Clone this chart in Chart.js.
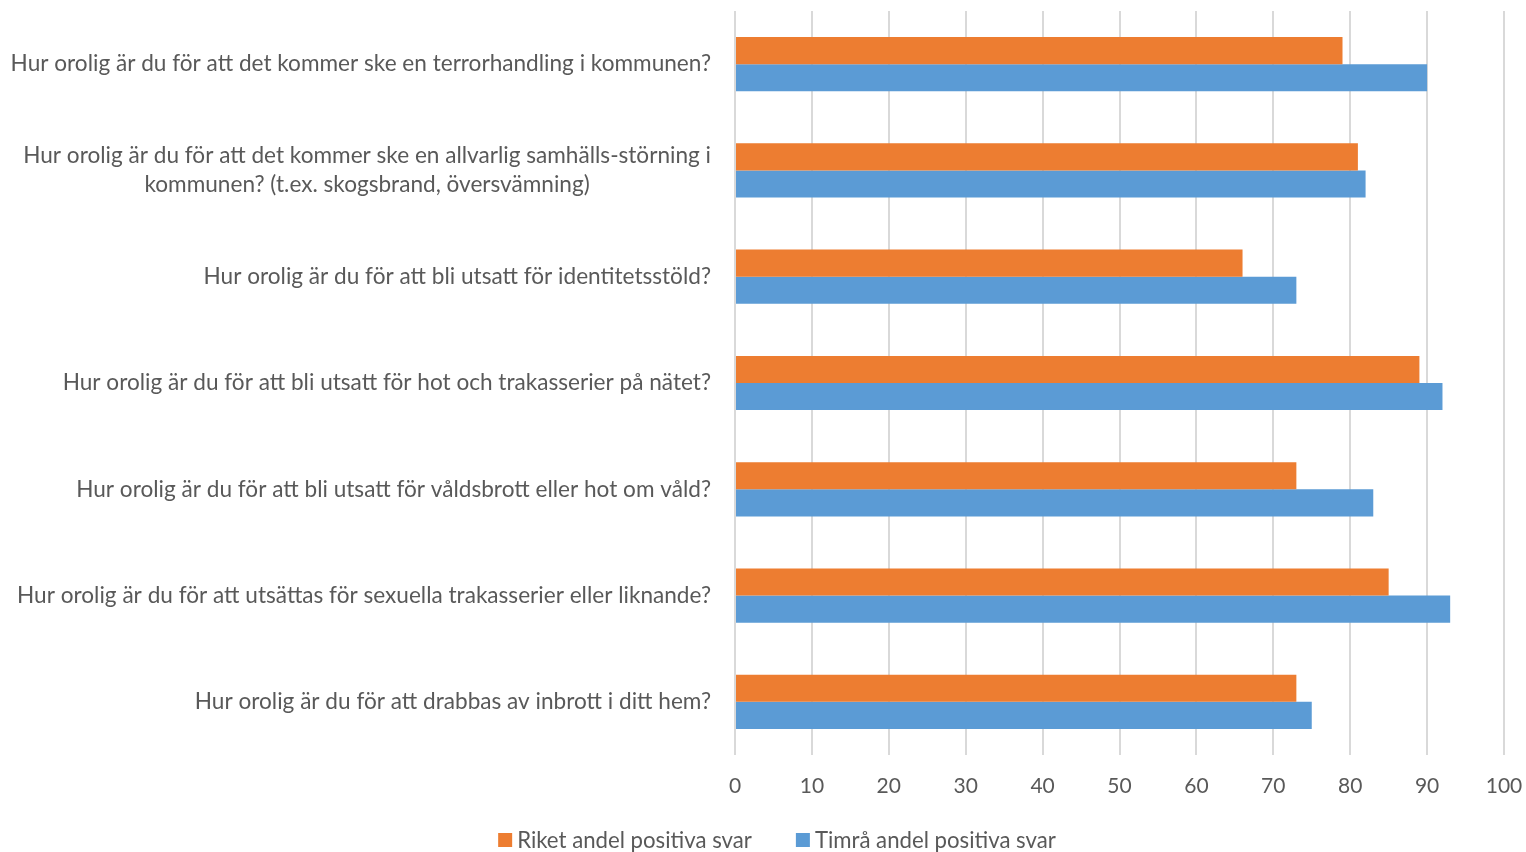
<!DOCTYPE html>
<html>
<head>
<meta charset="utf-8">
<script src="https://cdn.jsdelivr.net/npm/chart.js@4"></script>
<style>
  html, body { margin: 0; padding: 0; background: #fff; }
  #wrap { width: 1526px; height: 852px; }
</style>
</head>
<body>
<div id="wrap"><canvas id="orosChart"></canvas></div>
<script>
var questions = [
    'Hur orolig är du för att det kommer ske en terrorhandling i kommunen?',
    ['Hur orolig är du för att det kommer ske en allvarlig samhälls-störning i', 'kommunen? (t.ex. skogsbrand, översvämning)'],
    'Hur orolig är du för att bli utsatt för identitetsstöld?',
    'Hur orolig är du för att bli utsatt för hot och trakasserier på nätet?',
    'Hur orolig är du för att bli utsatt för våldsbrott eller hot om våld?',
    'Hur orolig är du för att utsättas för sexuella trakasserier eller liknande?',
    'Hur orolig är du för att drabbas av inbrott i ditt hem?'
];
var riket = [79, 81, 66, 89, 73, 85, 73];
var timra = [90, 82, 73, 92, 83, 93, 75];
var xTicks = [0, 10, 20, 30, 40, 50, 60, 70, 80, 90, 100];

var textColor = '#595959';
var fontFamily = 'Lato, "Open Sans", sans-serif';
var labelFont = '22.6px ' + fontFamily;
var legendFont = '22.2px ' + fontFamily;
var labelPad = 24;

// question labels: block right-aligned against the plot, lines centred inside the block
// plus a hand-drawn legend so the spacing can match
var extraText = {
    id: 'extraText',
    afterDraw: function (chart) {
        var c = chart.ctx;
        var y = chart.scales.y;
        c.save();
        c.font = labelFont;
        c.fillStyle = textColor;
        c.textBaseline = 'middle';
        c.textAlign = 'center';
        questions.forEach(function (q, i) {
            var lines = Array.isArray(q) ? q : [q];
            var w = Math.max.apply(null, lines.map(function (l) { return c.measureText(l).width; }));
            var cx = chart.chartArea.left - labelPad - w / 2;
            var cy = y.getPixelForValue(i);
            lines.forEach(function (l, j) {
                c.fillText(l, cx, cy + (j - (lines.length - 1) / 2) * 29);
            });
        });

        // legend
        c.font = legendFont;
        c.textAlign = 'left';
        var box = 14, gap = 5, itemGap = 44;
        var sets = chart.data.datasets;
        var total = 0;
        sets.forEach(function (ds, i) {
            total += box + gap + c.measureText(ds.label).width + (i ? itemGap : 0);
        });
        var x = 777 - total / 2;
        var ly = 840;
        sets.forEach(function (ds) {
            c.fillStyle = ds.backgroundColor;
            c.fillRect(x, ly - box / 2, box, box);
            c.fillStyle = textColor;
            c.fillText(ds.label, x + box + gap, ly + 1);
            x += box + gap + c.measureText(ds.label).width + itemGap;
        });
        c.restore();
    }
};

document.addEventListener('DOMContentLoaded', function () {
    var ctx = document.getElementById('orosChart').getContext('2d');
    new Chart(ctx, {
        type: 'bar',
        data: {
            labels: questions,
            datasets: [{
                label: 'Riket andel positiva svar',
                data: riket,
                backgroundColor: '#ed7d31',
                categoryPercentage: 0.51,
                barPercentage: 1
            }, {
                label: 'Timrå andel positiva svar',
                data: timra,
                backgroundColor: '#5b9bd5',
                categoryPercentage: 0.51,
                barPercentage: 1
            }]
        },
        options: {
            indexAxis: 'y',
            responsive: true,
            maintainAspectRatio: false,
            animation: false,
            layout: { padding: { top: 11, right: 22, left: 12, bottom: 52 } },
            scales: {
                x: {
                    min: 0,
                    max: 100,
                    afterBuildTicks: function (axis) {
                        axis.ticks = xTicks.map(function (v) { return { value: v }; });
                    },
                    afterFit: function (axis) {
                        axis.height = 45;
                        axis.paddingLeft = 0;
                        axis.paddingRight = 0;
                    },
                    grid: { color: '#d9d9d9', lineWidth: 2, drawTicks: false },
                    border: { display: false },
                    ticks: { color: textColor, font: { family: fontFamily, size: 21 }, padding: 19, maxRotation: 0 }
                },
                y: {
                    afterFit: function (axis) {
                        axis.width = 723;
                        axis.paddingTop = 0;
                        axis.paddingBottom = 0;
                    },
                    grid: { display: false },
                    border: { display: false },
                    ticks: { display: false }
                }
            },
            plugins: {
                legend: { display: false },
                tooltip: { enabled: false }
            }
        },
        plugins: [extraText]
    });
});
</script>
</body>
</html>
